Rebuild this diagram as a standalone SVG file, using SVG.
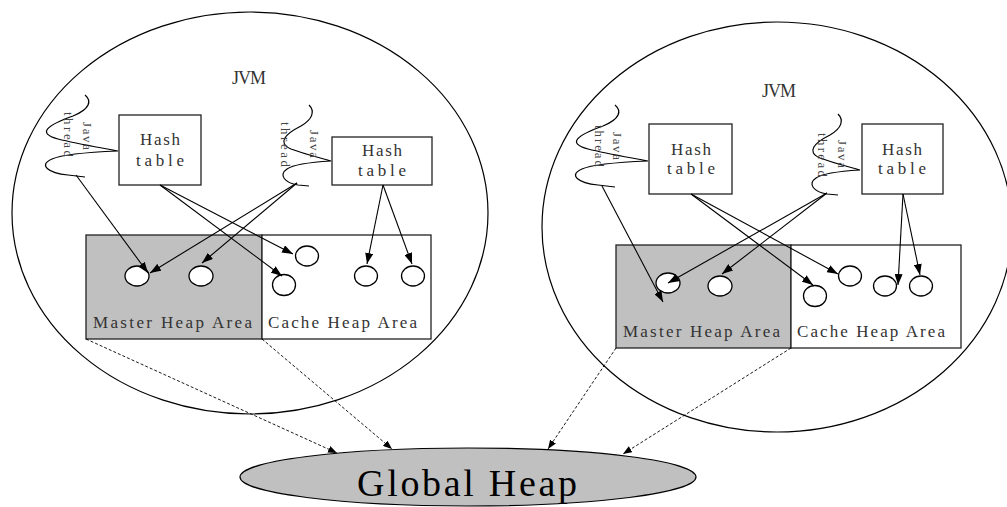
<svg xmlns="http://www.w3.org/2000/svg" width="1007" height="507" viewBox="0 0 1007 507">
<style>
.jvm{fill:none;stroke:#000;stroke-width:1.2}
.box{fill:#fff;stroke:#222;stroke-width:1.3}
.master{fill:#c0c0c0;stroke:#222;stroke-width:1.3}
.obj{fill:#fff;stroke:#000;stroke-width:1.3}
.thr{fill:none;stroke:#000;stroke-width:1.2}
.lbl{font-family:"Liberation Serif",serif;font-size:17px;fill:#333}
.jv{font-family:"Liberation Serif",serif;font-size:18px;fill:#333}
.small{font-family:"Liberation Serif",serif;font-size:13px;fill:#444}
.big{font-family:"Liberation Serif",serif;font-size:38px;fill:#000}
.arr{stroke:#000;stroke-width:1.1;fill:none;marker-end:url(#ah)}
.dash{stroke:#000;stroke-width:0.9;fill:none;stroke-dasharray:3,2;marker-end:url(#dh)}
</style>
<defs>
<marker id="ah" markerWidth="11" markerHeight="8" refX="11" refY="4" orient="auto" markerUnits="userSpaceOnUse"><path d="M0,0 L11,4 L0,8 z" fill="#000"/></marker>
<marker id="dh" markerWidth="9" markerHeight="7" refX="9" refY="3.5" orient="auto" markerUnits="userSpaceOnUse"><path d="M0,0 L9,3.5 L0,7 z" fill="#000"/></marker>
<path id="wave-w" d="M-33,-56 C-26,-50 -28,-42 -45,-35 C-70,-26 -82,-18 -60,-12 C-40,-7 -15,-3 0,0 C-25,1 -55,3 -66,8 C-80,14 -70,22 -50,24 L-33,26"/>
<path id="wave-n" d="M-22,-56 C-16,-50 -18,-42 -30,-35 C-46,-27 -54,-18 -40,-12 C-27,-7 -10,-3 0,0 C-17,1 -37,3 -44,8 C-53,14 -46,22 -33,24 L-22,25"/>
</defs>

<g id="jvm-left">
<ellipse class="jvm" cx="250" cy="213" rx="238" ry="201"/>
<text class="jv" x="232" y="84" textLength="34" lengthAdjust="spacing">JVM</text>
</g>
<g id="jvm-right">
<ellipse class="jvm" cx="777" cy="227" rx="235" ry="205"/>
<text class="jv" x="762" y="97" textLength="34" lengthAdjust="spacing">JVM</text>
</g>

<g id="heap-left">
<rect class="master" x="86" y="235" width="176" height="104"/>
<rect class="box" x="262" y="235" width="169" height="104"/>
<text class="lbl" x="93" y="328" textLength="159" lengthAdjust="spacing">Master Heap Area</text>
<text class="lbl" x="268" y="328" textLength="149" lengthAdjust="spacing">Cache Heap Area</text>
<ellipse class="obj" cx="137" cy="276" rx="12" ry="10"/>
<ellipse class="obj" cx="201" cy="276" rx="12" ry="10"/>
<ellipse class="obj" cx="307" cy="256" rx="11.5" ry="10"/>
<ellipse class="obj" cx="284" cy="285" rx="11.5" ry="10.5"/>
<ellipse class="obj" cx="366" cy="276" rx="11.5" ry="10"/>
<ellipse class="obj" cx="413" cy="276" rx="11.5" ry="10"/>
</g>

<g id="heap-right">
<rect class="master" x="616" y="245" width="175" height="103"/>
<rect class="box" x="791" y="245" width="170" height="103"/>
<text class="lbl" x="623" y="337" textLength="157" lengthAdjust="spacing">Master Heap Area</text>
<text class="lbl" x="797" y="337" textLength="148" lengthAdjust="spacing">Cache Heap Area</text>
<ellipse class="obj" cx="668" cy="283" rx="12" ry="10"/>
<ellipse class="obj" cx="720" cy="286" rx="12" ry="10"/>
<ellipse class="obj" cx="815" cy="296" rx="11.5" ry="10.5"/>
<ellipse class="obj" cx="850" cy="276" rx="11.5" ry="10"/>
<ellipse class="obj" cx="885" cy="286" rx="11.5" ry="10"/>
<ellipse class="obj" cx="921" cy="286" rx="11.5" ry="10"/>
</g>

<g id="hash-left-1">
<rect class="box" x="119" y="115" width="82" height="70"/>
<text class="lbl" x="140" y="145" textLength="40" lengthAdjust="spacing">Hash</text>
<text class="lbl" x="136" y="166" textLength="48" lengthAdjust="spacing">table</text>
</g>
<g id="hash-left-2">
<rect class="box" x="332" y="137" width="100" height="48"/>
<text class="lbl" x="362" y="156" textLength="40" lengthAdjust="spacing">Hash</text>
<text class="lbl" x="358" y="176" textLength="48" lengthAdjust="spacing">table</text>
</g>
<g id="hash-right-1">
<rect class="box" x="649" y="124" width="83" height="70"/>
<text class="lbl" x="671" y="155" textLength="40" lengthAdjust="spacing">Hash</text>
<text class="lbl" x="667" y="174" textLength="48" lengthAdjust="spacing">table</text>
</g>
<g id="hash-right-2">
<rect class="box" x="862" y="124" width="81" height="70"/>
<text class="lbl" x="882" y="155" textLength="40" lengthAdjust="spacing">Hash</text>
<text class="lbl" x="878" y="174" textLength="48" lengthAdjust="spacing">table</text>
</g>

<g id="thread-left-1">
<use href="#wave-w" class="thr" transform="translate(118,151)"/>
<text class="small" transform="translate(83,122) rotate(90)" textLength="28" lengthAdjust="spacing">Java</text>
<text class="small" transform="translate(64,112) rotate(90)" textLength="45" lengthAdjust="spacing">thread</text>
</g>
<g id="thread-left-2">
<use href="#wave-n" class="thr" transform="translate(331,161)"/>
<text class="small" transform="translate(310,130) rotate(90)" textLength="28" lengthAdjust="spacing">Java</text>
<text class="small" transform="translate(281,122) rotate(90)" textLength="45" lengthAdjust="spacing">thread</text>
</g>
<g id="thread-right-1">
<use href="#wave-w" class="thr" transform="translate(648,161)"/>
<text class="small" transform="translate(613,132) rotate(90)" textLength="28" lengthAdjust="spacing">Java</text>
<text class="small" transform="translate(595,125) rotate(90)" textLength="42" lengthAdjust="spacing">thread</text>
</g>
<g id="thread-right-2">
<use href="#wave-n" class="thr" transform="translate(860,170)"/>
<text class="small" transform="translate(838,140) rotate(90)" textLength="28" lengthAdjust="spacing">Java</text>
<text class="small" transform="translate(818,133) rotate(90)" textLength="44" lengthAdjust="spacing">thread</text>
</g>

<g id="global-heap">
<ellipse cx="468" cy="477" rx="228" ry="29" fill="#c0c0c0" stroke="#000" stroke-width="1.2"/>
<text class="big" x="357" y="496" textLength="220" lengthAdjust="spacing">Global Heap</text>
</g>

<g id="connectors">
<line class="arr" x1="76" y1="175" x2="148" y2="273"/>
<line class="arr" x1="160" y1="185" x2="293" y2="254"/>
<line class="arr" x1="160" y1="185" x2="282" y2="276"/>
<line class="arr" x1="297" y1="183" x2="150" y2="273"/>
<line class="arr" x1="297" y1="183" x2="202" y2="263"/>
<line class="arr" x1="383" y1="185" x2="367" y2="264"/>
<line class="arr" x1="383" y1="185" x2="412" y2="264"/>
<line class="arr" x1="602" y1="186" x2="663" y2="302"/>
<line class="arr" x1="827" y1="193" x2="668" y2="283"/>
<line class="arr" x1="827" y1="193" x2="722" y2="274"/>
<line class="arr" x1="691" y1="194" x2="813" y2="285"/>
<line class="arr" x1="691" y1="194" x2="838" y2="274"/>
<line class="arr" x1="903" y1="194" x2="898" y2="285"/>
<line class="arr" x1="903" y1="194" x2="920" y2="275"/>
<line class="dash" x1="86" y1="339" x2="337" y2="453"/>
<line class="dash" x1="262" y1="339" x2="392" y2="449"/>
<line class="dash" x1="616" y1="348" x2="548" y2="449"/>
<line class="dash" x1="791" y1="348" x2="623" y2="454"/>
</g>
</svg>
